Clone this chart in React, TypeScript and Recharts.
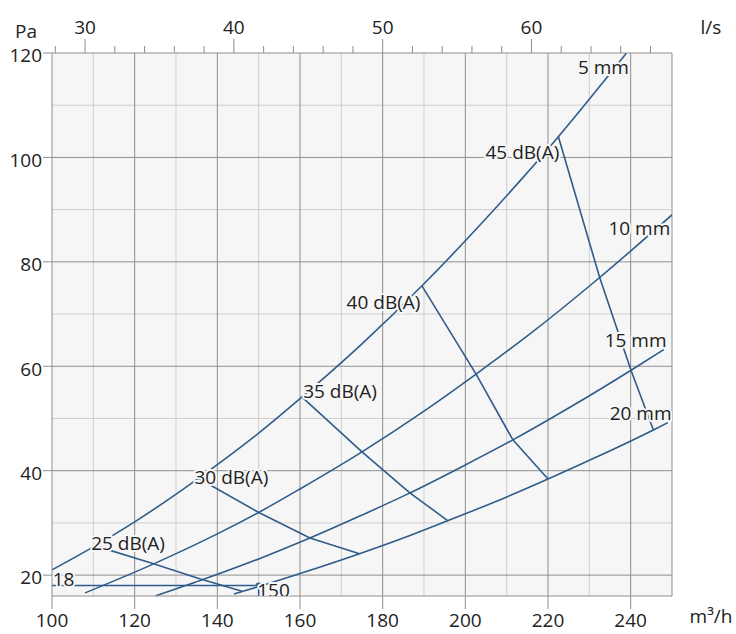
import React from 'react'
import { ComposedChart, Line, Scatter, XAxis, YAxis, CartesianGrid, Label } from 'recharts'

const BLUE = '#2f5c8a'
const TEXT = '#222'
const BG = '#f6f6f6'
const MAJOR = '#8e8e8e'
const MINOR = '#cfcfcf'

// system curves (airflow m3/h -> pressure Pa)
const q5 = [100, 110, 120, 135, 150, 160, 175, 190, 205, 222, 239]
const p5 = [21, 25.4, 30.2, 38.3, 47.2, 53.8, 64.3, 75.8, 88.3, 103.5, 120]
const q10 = [108, 125, 140, 150, 160, 175, 190, 202.6, 215, 232.5, 250]
const p10 = [16.6, 22.3, 27.9, 32.0, 36.5, 43.6, 51.4, 58.5, 65.8, 77.0, 89.0]
const q15 = [125, 136, 150, 162.4, 175, 186.5, 200, 211.5, 225, 240, 248]
const p15 = [16.0, 19.0, 23.1, 27.1, 31.5, 35.7, 41.1, 45.9, 52.0, 59.2, 63.2]
const q20 = [144, 150, 160, 174.4, 185, 196, 208, 220, 232, 245.5, 249]
const p20 = [16.4, 17.8, 20.3, 24.1, 27.1, 30.5, 34.3, 38.4, 42.7, 47.8, 49.2]

// sound level lines
const q25dB = [110.5, 124, 135.7, 146]
const p25dB = [25.6, 22.3, 19.3, 16.9]
const q30dB = [135.5, 149.8, 162.4, 174.4]
const p30dB = [38.5, 32.1, 27.1, 24.1]
const q35dB = [160.5, 175, 186.5, 195.8]
const p35dB = [54.1, 43.6, 35.8, 30.4]
const q40dB = [189.5, 202.6, 211.5, 220]
const p40dB = [75.4, 58.5, 45.9, 38.4]
const q45dB = [222.5, 232.5, 240.1, 245.5]
const p45dB = [104.0, 77.0, 59.2, 47.8]

// operating point 150 m3/h, 18 Pa
const qOp = [100, 150, 150]
const pOp = [18, 18, 16]

const labelText = ['5 mm', '45 dB(A)', '10 mm', '40 dB(A)', '15 mm', '35 dB(A)', '20 mm', '30 dB(A)', '25 dB(A)', '18', '150']
const labelQ = [233.4, 213.8, 242.1, 180.2, 241.2, 169.7, 242.4, 143.4, 118.4, 102.8, 153.6]
const labelP = [117.1, 100.8, 86.4, 72.2, 64.8, 55.0, 50.8, 38.7, 25.9, 19.0, 17.0]

const xTicks = [100, 120, 140, 160, 180, 200, 220, 240]
const yTicks = [20, 40, 60, 80, 100, 120]
const lsTicks = [28, 30, 32, 34, 36, 38, 40, 42, 44, 46, 48, 50, 52, 54, 56, 58, 60, 62, 64, 66, 68]
const lsRange = [28, 68]
const xMinor = [110, 130, 150, 170, 190, 210, 230]
const xMajor = [120, 140, 160, 180, 200, 220, 240, 250]
const yMinor = [30, 50, 70, 90, 110]
const yMajor = [20, 40, 60, 80, 100]

const pts = (xs: number[], ys: number[]) => xs.map((x, i) => ({ x, y: ys[i] }))

const curves = [pts(q5, p5), pts(q10, p10), pts(q15, p15), pts(q20, p20)]
const dbLines = [pts(q25dB, p25dB), pts(q30dB, p30dB), pts(q35dB, p35dB), pts(q40dB, p40dB), pts(q45dB, p45dB)]
const labels = labelText.map((text, i) => ({ x: labelQ[i], y: labelP[i], text }))
// invisible anchor so the l/s axis has a data range
const lsAnchor = lsRange.map((x) => ({ x, y: 20 }))

function TopTick(props: any) {
  const { x, y, payload } = props
  const major = payload.value % 10 === 0
  return (
    <g>
      <line x1={x} x2={x} y1={y} y2={y - (major ? 14 : 7)} stroke={MAJOR} />
      {major && (
        <text x={x} y={y - 19} textAnchor="middle" fontSize={19} fill={TEXT}>
          {payload.value}
        </text>
      )}
    </g>
  )
}

function LabelShape(props: any) {
  const { cx, cy, payload } = props
  return (
    <text
      x={cx}
      y={cy}
      dy="0.32em"
      textAnchor="middle"
      fontSize={19}
      fill={TEXT}
      stroke={BG}
      strokeWidth={4}
      strokeLinejoin="round"
      paintOrder="stroke"
    >
      {payload.text}
    </text>
  )
}

function OpDot(props: any) {
  const { cx, cy } = props
  return <circle cx={cx} cy={cy} r={3} fill={BLUE} />
}

export default function App() {
  return (
    <div style={{ position: 'absolute', left: 0, top: 0, fontFamily: "'Open Sans', sans-serif" }}>
      <ComposedChart width={736} height={634} margin={{ top: 0, right: 64, bottom: 0, left: 0 }}>
        <CartesianGrid fill={BG} stroke="none" horizontal={false} vertical={false} />
        <CartesianGrid verticalValues={xMinor} horizontalValues={yMinor} stroke={MINOR} />
        <CartesianGrid verticalValues={xMajor} horizontalValues={yMajor} stroke={MAJOR} />
        <XAxis
          dataKey="x"
          type="number"
          domain={[100, 250]}
          allowDataOverflow
          ticks={xTicks}
          height={38}
          tickSize={13}
          tickMargin={5}
          stroke={MAJOR}
          tick={{ fontSize: 19, fill: TEXT }}
        >
          <Label
            content={({ viewBox }: any) => (
              <text x={viewBox.x + viewBox.width + 39} y={623} textAnchor="middle" fontSize={19} fill={TEXT}>
                m³/h
              </text>
            )}
          />
        </XAxis>
        <XAxis
          xAxisId="top"
          dataKey="x"
          orientation="top"
          type="number"
          domain={[100 / 3.6, 250 / 3.6]}
          allowDataOverflow
          ticks={lsTicks}
          height={53}
          tickSize={0}
          tickMargin={0}
          tickLine={false}
          stroke={MAJOR}
          tick={(p: any) => <TopTick {...p} />}
          interval={0}
        >
          <Label
            content={({ viewBox }: any) => (
              <text x={viewBox.x + viewBox.width + 39} y={viewBox.y + viewBox.height - 19} textAnchor="middle" fontSize={19} fill={TEXT}>
                l/s
              </text>
            )}
          />
        </XAxis>
        <YAxis
          type="number"
          domain={[16, 120]}
          allowDataOverflow
          ticks={yTicks}
          width={52}
          tickSize={9}
          tickMargin={1}
          stroke={MAJOR}
          tick={{ fontSize: 19, fill: TEXT, dy: 2.5 }}
        >
          <Label
            content={({ viewBox }: any) => (
              <text x={viewBox.x + 26} y={viewBox.y - 15} textAnchor="middle" fontSize={19} fill={TEXT}>
                Pa
              </text>
            )}
          />
        </YAxis>
        <Scatter xAxisId="top" data={lsAnchor} dataKey="y" shape={() => <g />} isAnimationActive={false} />
        {curves.map((d, i) => (
          <Line key={'c' + i} data={d} dataKey="y" type="monotone" stroke={BLUE} strokeWidth={1.6} dot={false} isAnimationActive={false} />
        ))}
        {dbLines.map((d, i) => (
          <Line key={'d' + i} data={d} dataKey="y" type="linear" stroke={BLUE} strokeWidth={1.6} dot={false} isAnimationActive={false} />
        ))}
        <Line data={pts(qOp, pOp)} dataKey="y" type="linear" stroke={BLUE} strokeWidth={1.6} dot={false} isAnimationActive={false} />
        <Scatter data={[{ x: 150, y: 18 }]} dataKey="y" shape={<OpDot />} isAnimationActive={false} />
        <Scatter data={labels} dataKey="y" shape={<LabelShape />} isAnimationActive={false} />
      </ComposedChart>
    </div>
  )
}
